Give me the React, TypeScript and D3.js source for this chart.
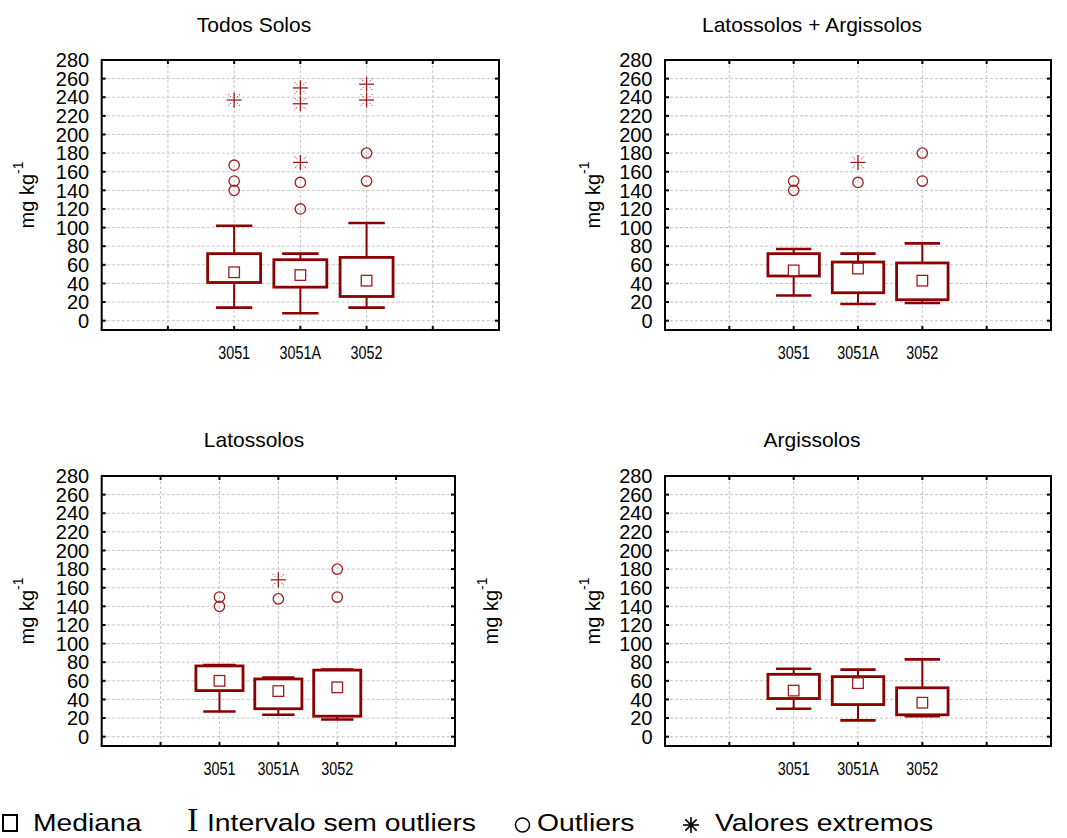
import React from 'react';
import * as d3 from 'd3';

// Box-plot statistics per panel (rows) and per category (columns), mg kg-1
const categories = ['3051', '3051A', '3052'];
const panelTitles = ['Todos Solos', 'Latossolos + Argissolos', 'Latossolos', 'Argissolos'];
const yTicks = [0, 20, 40, 60, 80, 100, 120, 140, 160, 180, 200, 220, 240, 260, 280];

const whiskerLow = [
  [14, 8, 14],
  [27, 18, 19],
  [27, 23.5, 18.5],
  [30, 17.5, 22],
];
const q1 = [
  [41, 36, 26],
  [48, 30, 22.5],
  [49.5, 30, 22],
  [41, 34.5, 23.5],
];
const median = [
  [52, 49, 43],
  [54, 56, 43],
  [60, 49, 53],
  [49.5, 57.5, 36.5],
];
const q3 = [
  [72, 65.5, 68],
  [72, 63, 62],
  [76, 62, 71.5],
  [67, 64.5, 52.5],
];
const whiskerHigh = [
  [102, 72, 105],
  [77, 72, 83],
  [77, 63.5, 72],
  [73, 72, 83],
];
const outliers = [
  [[167, 150, 140], [148.5, 120], [180, 150]],
  [[150, 140], [148.5], [180, 150]],
  [[150, 140], [148], [180, 150]],
  [[], [], []],
];
const extremes = [
  [[237], [250, 233, 170], [254, 237]],
  [[], [170], []],
  [[], [168.5], []],
  [[], [], []],
];

const legendLabels = ['Mediana', 'Intervalo sem outliers', 'Outliers', 'Valores extremos'];

const BOX = '#8b0000';
const MARK = '#9e1c1c';
const FONT = 'Arial, "Liberation Sans", sans-serif';

// panel frames (layout only)
const frames = [
  { left: 101.7, right: 499, top: 60, bottom: 330, titleX: 254, titleY: 32, labelX: 34 },
  { left: 665, right: 1051, top: 60, bottom: 330, titleX: 812, titleY: 32, labelX: 600 },
  { left: 101.7, right: 455, top: 476, bottom: 746, titleX: 254, titleY: 447, labelX: 34 },
  { left: 665, right: 1051, top: 476, bottom: 746, titleX: 812, titleY: 447, labelX: 600 },
];

const Star = ({ x, y }: { x: number; y: number }) => (
  <g transform={`translate(${x},${y})`} stroke={MARK} fill="none">
    <line x1={-7.5} x2={7.5} y1={0} y2={0} strokeWidth={1.3} />
    <line x1={0} x2={0} y1={-7.5} y2={7.5} strokeWidth={1.3} />
    {[[1, 1], [1, -1], [-1, 1], [-1, -1]].map(([a, b], k) => (
      <line key={k} x1={a * 3.2} y1={b * 3.2} x2={a * 6} y2={b * 6} strokeWidth={1} strokeDasharray="1.2,1.2" />
    ))}
  </g>
);

const YLabel = ({ x, y }: { x: number; y: number }) => (
  <text transform={`translate(${x},${y}) rotate(-90)`} textAnchor="middle" fontFamily={FONT} fontSize={20}>
    mg kg<tspan fontSize={14} dy={-11}>-1</tspan>
  </text>
);

const Panel = ({ p }: { p: number }) => {
  const f = frames[p];
  const y = d3.scaleLinear().domain([-10, 280]).range([f.bottom, f.top]);
  const x = d3.scaleLinear().domain([-2, categories.length + 1]).range([f.left, f.right]);
  const step = x(1) - x(0);
  const boxW = step * 0.8;
  const capW = step * 0.55;
  const gridX = d3.range(-1, categories.length + 1);
  const midY = (f.top + f.bottom) / 2;

  return (
    <g>
      <text x={f.titleX} y={f.titleY} textAnchor="middle" fontFamily={FONT} fontSize={21}>
        {panelTitles[p]}
      </text>
      <YLabel x={f.labelX} y={midY} />

      {/* grid */}
      <g stroke="#c4c4c4" strokeWidth={1} strokeDasharray="3,2">
        {yTicks.filter((t) => t < 280).map((t) => (
          <line key={t} x1={f.left} x2={f.right} y1={y(t)} y2={y(t)} />
        ))}
        {gridX.map((g) => (
          <line key={g} x1={x(g)} x2={x(g)} y1={f.top} y2={f.bottom} />
        ))}
      </g>

      {/* ticks */}
      <g stroke="#000" strokeWidth={2}>
        {yTicks.map((t) => (
          <g key={t}>
            <line x1={f.left} x2={f.left + 4} y1={y(t)} y2={y(t)} />
            <line x1={f.right - 4} x2={f.right} y1={y(t)} y2={y(t)} />
          </g>
        ))}
        {gridX.map((g) => (
          <g key={g}>
            <line x1={x(g)} x2={x(g)} y1={f.top} y2={f.top + 4} />
            <line x1={x(g)} x2={x(g)} y1={f.bottom - 4} y2={f.bottom} />
          </g>
        ))}
      </g>

      {yTicks.map((t) => (
        <text key={t} x={f.left - 12.5} y={y(t)} dy="0.36em" textAnchor="end" fontFamily={FONT} fontSize={20}>
          {t}
        </text>
      ))}
      {categories.map((c, i) => (
        <text key={c} transform={`translate(${x(i)},${f.bottom + 29}) scale(0.82,1)`} textAnchor="middle" fontFamily={FONT} fontSize={17.5}>
          {c}
        </text>
      ))}

      {/* boxes */}
      {categories.map((c, i) => {
        const cx = x(i);
        return (
          <g key={c}>
            <g stroke={BOX} strokeWidth={2}>
              <line x1={cx} x2={cx} y1={y(q3[p][i])} y2={y(whiskerHigh[p][i])} />
              <line x1={cx} x2={cx} y1={y(q1[p][i])} y2={y(whiskerLow[p][i])} />
            </g>
            <g stroke={BOX} strokeWidth={2.6}>
              <line x1={cx - capW / 2} x2={cx + capW / 2} y1={y(whiskerHigh[p][i])} y2={y(whiskerHigh[p][i])} />
              <line x1={cx - capW / 2} x2={cx + capW / 2} y1={y(whiskerLow[p][i])} y2={y(whiskerLow[p][i])} />
            </g>
            <rect
              x={cx - boxW / 2}
              y={y(q3[p][i])}
              width={boxW}
              height={y(q1[p][i]) - y(q3[p][i])}
              fill="#fff"
              stroke={BOX}
              strokeWidth={2.8}
            />
            <rect x={cx - 5.3} y={y(median[p][i]) - 5.3} width={10.6} height={10.6} fill="#fff" stroke={MARK} strokeWidth={1.3} />
            {outliers[p][i].map((v, k) => (
              <circle key={k} cx={cx} cy={y(v)} r={5.2} fill="none" stroke={MARK} strokeWidth={1.3} />
            ))}
            {extremes[p][i].map((v, k) => (
              <Star key={k} x={cx} y={y(v)} />
            ))}
          </g>
        );
      })}

      <rect x={f.left} y={f.top} width={f.right - f.left} height={f.bottom - f.top} fill="none" stroke="#000" strokeWidth={2} />
    </g>
  );
};

const Legend = () => {
  const base = 831;
  const lt = (tx: number, s: string) => (
    <text transform={`translate(${tx},${base}) scale(1.18,1)`} fontFamily={FONT} fontSize={24}>
      {s}
    </text>
  );
  return (
    <g>
      <rect x={3} y={815} width={14} height={16} fill="none" stroke="#000" strokeWidth={2} />
      {lt(33, legendLabels[0])}
      <text x={187} y={base} fontFamily='"Liberation Serif", "Times New Roman", serif' fontSize={34}>
        I
      </text>
      {lt(207, legendLabels[1])}
      <circle cx={522.5} cy={825} r={7} fill="none" stroke="#000" strokeWidth={1.5} />
      {lt(537, legendLabels[2])}
      <g transform="translate(691,825)" stroke="#000" strokeWidth={1.6}>
        {[0, 45, 90, 135].map((a) => (
          <line key={a} x1={-8} x2={8} y1={0} y2={0} transform={`rotate(${a})`} />
        ))}
      </g>
      {lt(715, legendLabels[3])}
    </g>
  );
};

export default function App() {
  return (
    <div style={{ position: 'absolute', left: 0, top: 0 }}>
      <svg width={1067} height={838} style={{ display: 'block', background: '#fff' }}>
        {[0, 1, 2, 3].map((p) => (
          <Panel key={p} p={p} />
        ))}
        {/* stray axis title seen between the bottom panels */}
        <YLabel x={498} y={611} />
        <Legend />
      </svg>
    </div>
  );
}
